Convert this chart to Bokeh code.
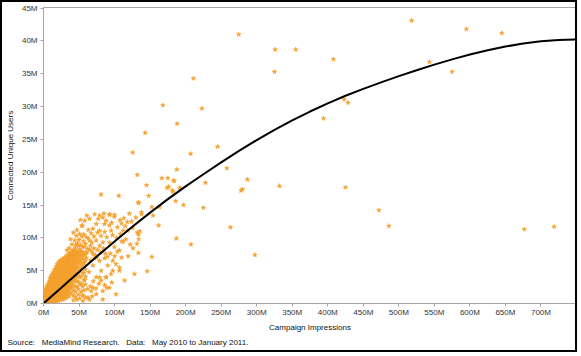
from bokeh.plotting import figure
from bokeh.models import FixedTicker, Range1d, Title
from bokeh.embed import file_html
from bokeh.resources import INLINE

# ---- axis ticks (values in millions) ----
x_ticks = [0, 50, 100, 150, 200, 250, 300, 350, 400, 450, 500, 550, 600, 650, 700]
x_tick_labels = ["0M", "50M", "100M", "150M", "200M", "250M", "300M", "350M", "400M",
                 "450M", "500M", "550M", "600M", "650M", "700M"]
y_ticks = [0, 5, 10, 15, 20, 25, 30, 35, 40, 45]
y_tick_labels = ["0M", "5M", "10M", "15M", "20M", "25M", "30M", "35M", "40M", "45M"]

# ---- trend curve (impressions M -> users M) ----
trend_x = [0, 25, 50, 75, 100, 125, 150, 175, 200, 225, 250, 275, 300, 325, 350, 375, 400,
           425, 450, 475, 500, 525, 550, 575, 600, 625, 650, 675, 700, 725, 750]
trend_y = [0, 2.4, 4.8, 7.15, 9.45, 11.7, 13.85, 15.9, 17.85, 19.7, 21.5, 23.25, 24.9, 26.45,
           27.9, 29.25, 30.5, 31.65, 32.7, 33.7, 34.65, 35.55, 36.4, 37.2, 37.95, 38.6, 39.15,
           39.6, 39.95, 40.15, 40.25]

# ---- dense cluster near the origin, read column by column ----
cluster_x_cols = [0.5, 1.5, 3, 4.5, 6, 7.5, 9, 10.5, 12, 13.5, 15, 16.5, 18, 19.5, 21, 22.5,
                  24, 25.5, 27, 28.5, 30, 31.5, 33, 34.5, 36, 37.5, 39, 40.5, 42, 43.5, 45,
                  47, 49, 51, 53, 55, 57, 59]
cluster_y_cols = [
    [0.1, 0.4, 0.8, 1.2],
    [0.2, 0.6, 1.0, 1.5],
    [0.1, 0.5, 0.9, 1.4, 1.9, 2.3],
    [0.3, 0.7, 1.2, 1.7, 2.2, 2.6],
    [0.2, 0.6, 1.0, 1.5, 2.0, 2.5, 2.9],
    [0.4, 0.9, 1.3, 1.8, 2.3, 2.8, 3.2],
    [0.2, 0.6, 1.1, 1.6, 2.1, 2.6, 3.0, 3.4, 3.8],
    [0.5, 0.9, 1.4, 1.9, 2.4, 2.9, 3.3, 3.7, 4.1],
    [0.3, 0.8, 1.2, 1.7, 2.2, 2.7, 3.1, 3.6, 4.0, 4.4],
    [0.6, 1.0, 1.5, 2.0, 2.5, 3.0, 3.4, 3.9, 4.3, 4.7],
    [0.2, 0.7, 1.3, 1.8, 2.3, 2.8, 3.3, 3.7, 4.2, 4.6, 5.0],
    [0.5, 1.0, 1.6, 2.1, 2.6, 3.1, 3.5, 4.0, 4.5, 4.9, 5.3],
    [0.3, 0.9, 1.4, 1.9, 2.4, 2.9, 3.4, 3.9, 4.4, 4.8, 5.2, 5.7],
    [0.6, 1.2, 1.7, 2.2, 2.7, 3.2, 3.7, 4.2, 4.6, 5.1, 5.5, 6.0],
    [0.4, 1.0, 1.5, 2.0, 2.6, 3.1, 3.6, 4.1, 4.5, 5.0, 5.4, 5.9, 6.3],
    [0.8, 1.3, 1.9, 2.4, 2.9, 3.4, 3.9, 4.4, 4.9, 5.3, 5.8, 6.2],
    [0.5, 1.1, 1.6, 2.2, 2.7, 3.2, 3.7, 4.2, 4.7, 5.2, 5.6, 6.1, 6.6],
    [0.9, 1.4, 2.0, 2.5, 3.0, 3.5, 4.0, 4.5, 5.0, 5.5, 6.0, 6.4],
    [0.6, 1.2, 1.8, 2.3, 2.8, 3.3, 3.9, 4.4, 4.9, 5.4, 5.8, 6.3, 6.8],
    [1.0, 1.6, 2.1, 2.7, 3.2, 3.7, 4.2, 4.7, 5.2, 5.7, 6.2, 6.6],
    [0.7, 1.4, 1.9, 2.5, 3.0, 3.6, 4.1, 4.6, 5.1, 5.6, 6.0, 6.5, 7.0],
    [1.2, 1.8, 2.4, 2.9, 3.4, 4.0, 4.5, 5.0, 5.5, 5.9, 6.4, 6.9],
    [0.9, 1.6, 2.2, 2.8, 3.3, 3.9, 4.4, 4.9, 5.4, 5.8, 6.3, 6.8, 7.3],
    [1.4, 2.0, 2.6, 3.2, 3.7, 4.3, 4.8, 5.3, 5.8, 6.2, 6.7, 7.2],
    [1.1, 1.8, 2.5, 3.0, 3.6, 4.2, 4.7, 5.2, 5.7, 6.1, 6.6, 7.1, 7.6],
    [2.2, 2.9, 3.5, 4.1, 4.6, 5.1, 5.6, 6.0, 6.5, 7.0, 7.5],
    [1.6, 2.4, 3.2, 3.8, 4.4, 4.9, 5.4, 5.9, 6.4, 6.9, 7.4, 7.9],
    [2.7, 3.4, 4.0, 4.6, 5.2, 5.7, 6.3, 6.8, 7.3, 7.8],
    [0.5, 1.2, 2.0, 3.1, 3.8, 4.4, 5.0, 5.6, 6.1, 6.7, 7.2, 7.7, 8.2],
    [3.5, 4.3, 4.9, 5.5, 6.0, 6.6, 7.1, 7.7],
    [1.0, 1.8, 2.6, 3.9, 4.7, 5.4, 6.0, 6.5, 7.0, 7.6, 8.4],
    [0.6, 2.5, 3.4, 4.2, 5.1, 5.8, 6.4, 6.9, 7.5, 8.0],
    [1.4, 2.2, 3.3, 4.6, 5.5, 6.3, 7.0, 7.8, 8.8],
    [0.8, 2.9, 4.0, 5.0, 6.0, 6.7, 7.4, 8.3],
    [1.8, 3.0, 4.1, 5.4, 6.4, 7.1, 7.9],
    [1.2, 2.6, 4.6, 5.8, 6.8, 7.6, 8.6],
    [2.0, 3.5, 4.7, 6.2, 7.3],
    [0.9, 2.9, 4.1, 5.2, 6.6, 7.8],
]

# ---- scattered campaigns around the cluster ----
mid_x = [64.8, 83.5, 92.8, 99.8, 107.7, 85.8, 74.2, 69.5, 78.8, 92.8, 95.1, 54.6, 46.2, 50.9,
         60.2, 64.8, 74.2, 83.5, 92.8, 99.8, 106.8, 74.2, 81.2, 88.1, 95.1, 102.1, 106.8, 92.8,
         83.5, 74.2, 64.8, 55.5, 83.5, 102.1, 97.5, 90.5, 78.8, 69.5, 60.2, 55.5,
         55.5, 62.5, 69.5, 74, 81, 88, 97.5, 107, 114, 128,
         48, 52, 56, 58, 62, 66, 68, 71, 73, 76, 80, 84, 87, 90, 63, 67, 71, 76, 81, 86, 89,
         97, 103, 58, 61, 72, 77, 88, 96, 104, 108, 66, 72, 86, 94, 100, 104, 110, 112, 115,
         118, 64, 70, 78, 86, 96, 62, 67, 58, 110, 52, 44, 47, 57, 40, 36, 38, 33, 42,
         45, 50, 54, 59, 63, 68, 49, 53, 61, 65, 70, 75, 79, 57, 44, 48]
mid_y = [12.9, 13.1, 13.5, 13.2, 12.7, 12.1, 12.1, 11.4, 11.1, 11.9, 11.1, 11.9, 10.3, 10.6,
         10.1, 9.6, 9.6, 9.3, 9.3, 8.6, 8.1, 4.0, 5.0, 4.0, 4.5, 6.0, 5.0, 2.4,
         1.9, 1.4, 0.6, 0.4, 0.6, 1.4, 6.5, 5.8, 6.5, 5.8, 7.0, 7.5,
         1.2, 0.9, 2.4, 2.3, 3.5, 4.0, 5.0, 5.5, 3.5, 4.5,
         9.2, 8.9, 9.5, 8.6, 8.3, 8.8, 7.9, 8.4, 7.4, 8.2, 7.8, 8.4, 7.6, 7.1, 11.2, 10.7, 10.2,
         10.8, 10.3, 10.9, 10.1, 10.4, 10.0, 12.6, 13.4, 13.6, 12.9, 12.6, 12.3, 11.6, 10.6, 6.6,
         6.9, 6.9, 7.6, 7.2, 7.9, 7.0, 9.4, 11.8, 12.4, 4.8, 3.4, 3.0, 2.8, 3.2, 2.2, 1.9, 3.6,
         9.5, 12.7, 9.6, 11.2, 10.5, 9.0, 8.4, 9.8, 8.1, 10.8,
         8.9, 9.7, 10.2, 9.1, 9.9, 9.3, 7.6, 8.0, 7.7, 8.2, 7.5, 7.0, 8.8, 6.2, 7.9, 6.9]

far_x = [146, 120.8, 118.5, 133.8, 125.5, 132, 135.7, 134, 131.5, 133.4, 152.5, 130, 138, 138,
         154, 162, 152.5, 133.4, 134, 148, 163, 145, 132, 125.5, 143, 168, 166.5, 175, 176, 174,
         181.4, 182.4, 183, 193, 106, 81, 54, 79, 85, 93, 100, 89, 79, 66, 68.5, 110, 113, 116,
         122, 124, 112, 126, 119,
         274.7, 326, 355, 325, 211, 223, 188, 245, 207, 187.5, 258, 287, 184, 228, 191.6, 280,
         278, 332, 186, 197, 225, 263, 187, 207.5, 297.5, 408, 518, 595, 645, 543, 575, 423,
         428.5, 394, 425, 472, 486, 676.5, 718.5]
far_y = [4.9, 13.7, 11.1, 10.5, 11.5, 10.8, 11.0, 9.8, 9.1, 7.7, 7.1, 13.1, 13.9, 13.6,
         13.4, 11.9, 14.7, 15.4, 15.3, 16.4, 14.7, 18.0, 19.6, 23.0, 26.0, 30.2, 19.1, 19.1, 17.8,
         17.6, 17.2, 17.0, 18.7, 17.6, 16.4, 16.6, 11.8, 13.4, 13.7, 13.6, 13.5, 2.4, 4.0, 2.6,
         1.1, 12.2, 13.0, 9.8, 9.0, 12.5, 11.1, 8.4, 7.2,
         41.0, 38.7, 38.7, 35.3, 34.3, 29.7, 27.4, 23.9, 22.8, 20.4, 20.6, 18.9, 18.7, 18.4, 17.6,
         17.4, 17.2, 17.9, 15.6, 15.0, 14.6, 11.6, 9.9, 9.0, 7.4, 37.2, 43.1, 41.8, 41.2, 36.8,
         35.3, 31.1, 30.6, 28.2, 17.7, 14.2, 11.8, 11.3, 11.7]

source_text = "Source:\u00a0\u00a0 MediaMind Research.\u00a0\u00a0 Data:\u00a0\u00a0 May 2010 to January 2011."

# flatten cluster
pts_x, pts_y = [], []
for cx, ys in zip(cluster_x_cols, cluster_y_cols):
    for cy in ys:
        pts_x.append(cx)
        pts_y.append(cy)
pts_x += mid_x + far_x
pts_y += mid_y + far_y

ORANGE = "#F4A02E"
GRAY = "#A6A6A6"
FONT = "Liberation Sans"

p = figure(width=577, height=352, output_backend="svg", toolbar_location=None,
           x_range=Range1d(0, 750), y_range=Range1d(0, 45.1),
           min_border_left=38, min_border_right=3, min_border_top=5, min_border_bottom=51)
p.styles = {"border": "2px solid black"}
p.xgrid.visible = False
p.ygrid.visible = False
p.outline_line_color = GRAY
p.outline_line_width = 1

for ax in (p.xaxis[0], p.yaxis[0]):
    ax.axis_line_color = GRAY
    ax.major_tick_line_color = GRAY
    ax.major_tick_out = 3
    ax.major_tick_in = 0
    ax.minor_tick_line_color = None
    ax.major_label_text_font = FONT
    ax.major_label_text_font_size = "8px"
    ax.major_label_text_color = "#333333"
    ax.axis_label_text_font = FONT
    ax.axis_label_text_font_size = "8px"
    ax.axis_label_text_font_style = "normal"
    ax.axis_label_text_color = "#111111"
    ax.major_label_standoff = 3
    ax.axis_label_standoff = 4

p.xaxis[0].major_label_standoff = 1
p.xaxis[0].axis_label_standoff = 3
p.xaxis[0].ticker = FixedTicker(ticks=x_ticks)
p.xaxis[0].major_label_overrides = {t: l for t, l in zip(x_ticks, x_tick_labels)}
p.yaxis[0].ticker = FixedTicker(ticks=y_ticks)
p.yaxis[0].major_label_overrides = {t: l for t, l in zip(y_ticks, y_tick_labels)}
p.xaxis[0].axis_label = "Campaign Impressions"
p.yaxis[0].axis_label = "Connected Unique Users"

p.scatter(pts_x, pts_y, marker="star", size=5, fill_color=ORANGE, line_color=ORANGE,
          line_width=0.5)
p.line(trend_x, trend_y, line_color="black", line_width=2, line_join="round")

p.add_layout(Title(text=source_text, align="left", text_font=FONT, text_font_size="8px",
                   text_font_style="normal", text_color="#111111", offset=-36,
                   standoff=3), "below")

open("out.html", "w").write(file_html(p, INLINE))
